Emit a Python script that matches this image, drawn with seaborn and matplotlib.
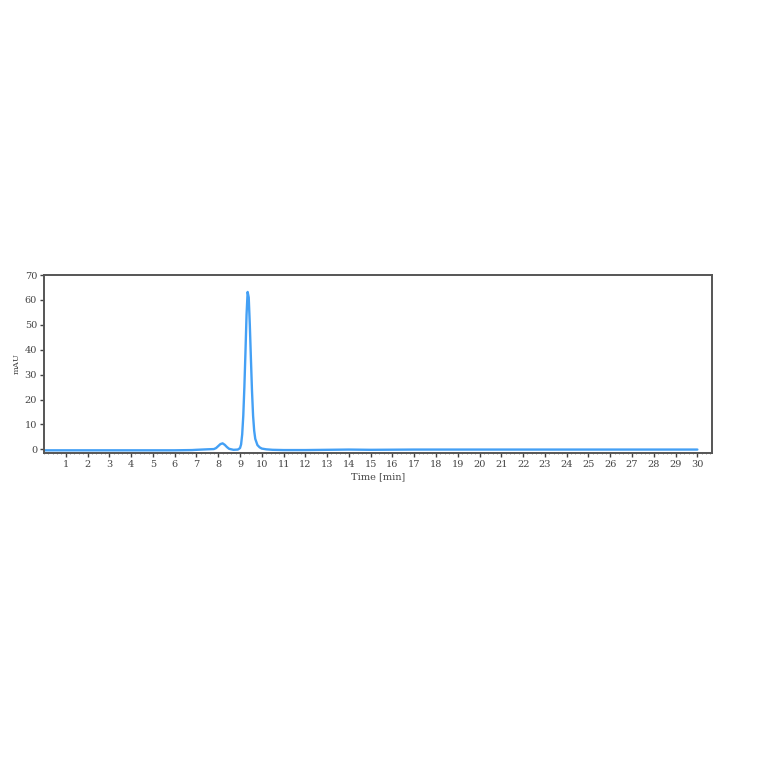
import numpy as np
import pandas as pd
import seaborn as sns
import matplotlib.pyplot as plt
from matplotlib.ticker import MultipleLocator

# chromatogram trace
time_min = [0.0, 1.0, 2.0, 3.0, 4.0, 5.0, 6.0, 6.8, 7.0, 7.5, 7.8, 7.9, 8.0, 8.1, 8.2,
            8.3, 8.4, 8.5, 8.7, 8.9, 9.0, 9.05, 9.1, 9.15, 9.2, 9.25, 9.3, 9.35,
            9.4, 9.45, 9.5, 9.55, 9.6, 9.65, 9.7, 9.8, 9.9, 10.0, 10.2, 10.5,
            11.0, 12.0, 14.0, 15.0, 17.0, 21.5, 25.0, 30.0]
absorbance = [-0.4, -0.4, -0.4, -0.4, -0.4, -0.4, -0.4, -0.3, -0.2, 0.0, 0.1, 0.5, 1.3, 2.1, 2.4,
              1.8, 0.9, 0.2, -0.2, -0.1, 0.5, 2.0, 6.0, 13.5, 25.0, 39.0, 54.0, 63.2,
              61.0, 50.0, 36.5, 23.5, 13.5, 7.5, 4.2, 1.7, 0.8, 0.3, 0.0, -0.2,
              -0.3, -0.3, -0.1, -0.2, -0.1, -0.1, -0.1, -0.1]
x_ticks = list(range(1, 31))
y_ticks = [0, 10, 20, 30, 40, 50, 60, 70]

df = pd.DataFrame({'Time': time_min, 'mAU': absorbance})

sns.set_style('white')
plt.rcParams['font.family'] = ['DejaVu Serif']

fig = plt.figure(figsize=(7.64, 7.64), dpi=100)
ax = fig.add_axes([0.0576, 0.407, 0.874, 0.233])

sns.lineplot(data=df, x='Time', y='mAU', color='#44a0f5', linewidth=1.7, ax=ax)

ax.set_xlim(0, 30.66)
ax.set_ylim(-1.5, 70)
ax.set_xticks(x_ticks)
ax.set_yticks(y_ticks)
ax.xaxis.set_minor_locator(MultipleLocator(0.2))
ax.tick_params(axis='both', which='major', direction='out', length=3, width=1,
               color='#444444', labelsize=7, labelcolor='#444444', pad=2,
               bottom=True, left=True)
ax.tick_params(axis='x', which='minor', direction='out', length=1, width=0.6,
               color='#888888', bottom=True)
for s in ax.spines.values():
    s.set_color('#555555')
    s.set_linewidth(1.4)

ax.set_xlabel('Time [min]', fontsize=7, color='#444444', labelpad=2)
ax.set_ylabel('mAU', fontsize=6, color='#444444', labelpad=3)
ax.grid(False)

fig.savefig('out.png', dpi=100)
